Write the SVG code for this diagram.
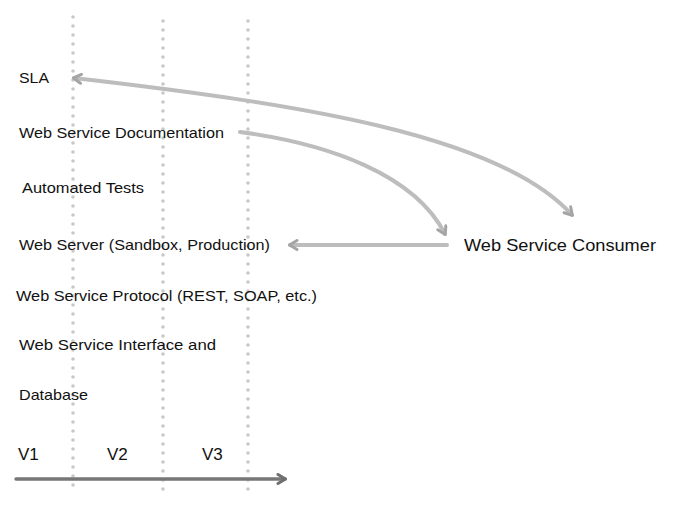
<svg xmlns="http://www.w3.org/2000/svg" width="697" height="519" viewBox="0 0 697 519">
<style>
.lbl{font-family:"Liberation Sans","DejaVu Sans",sans-serif;font-size:15px;fill:#111}
.ver{font-family:"Liberation Sans","DejaVu Sans",sans-serif;font-size:17px;fill:#111}
.grid{stroke:#c8c8c8;stroke-width:3.6;stroke-linecap:round;stroke-dasharray:0 9;fill:none}
.conn{stroke:#bdbdbd;stroke-width:4;fill:none;stroke-linecap:round}
.axis{stroke:#777;stroke-width:3.5;fill:none;stroke-linecap:round}
</style>
<defs>
<marker id="ah" viewBox="0 0 12 12" refX="9" refY="6" markerWidth="12" markerHeight="12" markerUnits="userSpaceOnUse" orient="auto-start-reverse">
<path d="M2,1.5 L9.5,6 L2,10.5" fill="none" stroke="#a5a5a5" stroke-width="3" stroke-linecap="round" stroke-linejoin="round"/>
</marker>
<marker id="ahd" viewBox="0 0 12 12" refX="9" refY="6" markerWidth="12" markerHeight="12" markerUnits="userSpaceOnUse" orient="auto">
<path d="M2,1.5 L9.5,6 L2,10.5" fill="none" stroke="#6f6f6f" stroke-width="3" stroke-linecap="round" stroke-linejoin="round"/>
</marker>
</defs>
<rect width="697" height="519" fill="#fff"/>
<g id="gridlines">
<line class="grid" x1="73" y1="17" x2="73" y2="494"/>
<line class="grid" x1="163" y1="21" x2="163" y2="498"/>
<line class="grid" x1="248" y1="21" x2="248" y2="498"/>
</g>
<g id="connectors">
<path class="conn" d="M74,78 C300,104 500,135 572,215" marker-start="url(#ah)" marker-end="url(#ah)"/>
<path class="conn" d="M240,132 C330,144 415,175 445,234" marker-end="url(#ah)"/>
<path class="conn" d="M447,245 L290,245" marker-end="url(#ah)"/>
<path class="axis" d="M16,479 L285,479" marker-end="url(#ahd)"/>
</g>
<g id="sla"><text class="lbl" x="19" y="83" textLength="30" lengthAdjust="spacingAndGlyphs">SLA</text></g>
<g id="docs"><text class="lbl" x="19" y="138" textLength="205" lengthAdjust="spacingAndGlyphs">Web Service Documentation</text></g>
<g id="tests"><text class="lbl" x="22" y="193" textLength="122" lengthAdjust="spacingAndGlyphs">Automated Tests</text></g>
<g id="server"><text class="lbl" x="19" y="250" textLength="251" lengthAdjust="spacingAndGlyphs">Web Server (Sandbox, Production)</text></g>
<g id="protocol"><text class="lbl" x="16" y="301" textLength="301" lengthAdjust="spacingAndGlyphs">Web Service Protocol (REST, SOAP, etc.)</text></g>
<g id="interface"><text class="lbl" x="19" y="350" textLength="197" lengthAdjust="spacingAndGlyphs">Web Service Interface and</text></g>
<g id="database"><text class="lbl" x="19" y="400" textLength="69" lengthAdjust="spacingAndGlyphs">Database</text></g>
<g id="consumer"><text class="lbl" x="464" y="251" style="font-size:16.5px" textLength="192" lengthAdjust="spacingAndGlyphs">Web Service Consumer</text></g>
<g id="v1"><text class="ver" x="18" y="460">V1</text></g>
<g id="v2"><text class="ver" x="107" y="460">V2</text></g>
<g id="v3"><text class="ver" x="202" y="460">V3</text></g>
</svg>
